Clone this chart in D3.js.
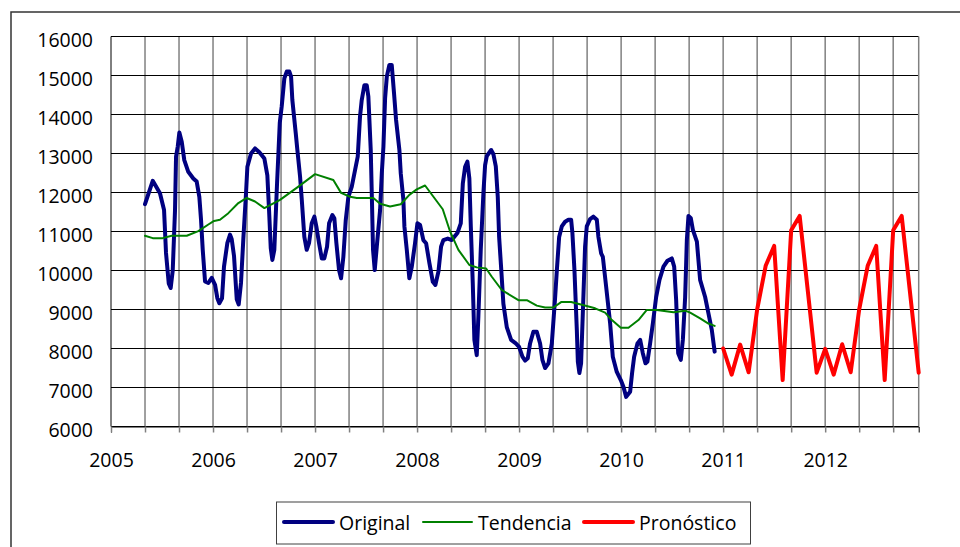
<!DOCTYPE html>
<html>
<head>
<meta charset="utf-8">
<script src="https://cdn.jsdelivr.net/npm/d3@7"></script>
<style>
  body { margin: 0; background: #fff; }
  svg { font-family: "Open Sans", sans-serif; }
</style>
</head>
<body>
<div id="chart"></div>
<script>
// Time is in months since Jan 2005 (0 = Jan 2005, 95 = Dec 2012)

// Original series (sub-monthly detail)
var origT = [4.0, 4.91, 5.76, 6.24, 6.47, 6.79, 7.02, 7.26, 7.53, 7.65, 7.85, 8.04, 8.32, 8.62, 9.09, 9.68, 10.08, 10.39, 10.59, 10.79,
  11.06, 11.45, 11.85, 12.24, 12.51, 12.74, 13.06, 13.29, 13.68, 14.0, 14.2, 14.47, 14.79, 15.02, 15.29, 15.56, 15.88, 16.04, 16.47, 16.94,
  17.45, 18.04, 18.39, 18.59, 18.79, 18.98, 19.21, 19.53, 19.85, 20.08, 20.39, 20.67, 20.98, 21.18, 21.33, 21.73, 21.92, 22.24, 22.44, 22.74,
  23.02, 23.29, 23.61, 23.92, 24.15, 24.47, 24.79, 25.09, 25.41, 25.65, 26.04, 26.27, 26.51, 26.82, 27.06, 27.33, 27.61, 27.92, 28.32, 28.71,
  29.02, 29.29, 29.49, 29.8, 30.08, 30.27, 30.55, 30.69, 30.82, 31.02, 31.26, 31.65, 31.85, 32.04, 32.24, 32.44, 32.74, 33.02, 33.29, 33.53,
  33.92, 34.08, 34.39, 34.51, 34.79, 35.09, 35.38, 35.76, 36.04, 36.35, 36.74, 37.06, 37.45, 37.85, 38.15, 38.51, 38.82, 39.09, 39.61, 40.08,
  40.74, 41.14, 41.38, 41.65, 41.92, 42.15, 42.32, 42.55, 42.74, 43.02, 43.21, 43.49, 43.8, 44.0, 44.2, 44.71, 44.98, 45.26, 45.49, 45.65,
  45.88, 46.15, 46.55, 47.06, 47.61, 48.0, 48.39, 48.71, 49.02, 49.29, 49.68, 50.08, 50.47, 50.74, 51.06, 51.45, 51.85, 52.24, 52.44, 52.71,
  53.02, 53.41, 53.8, 54.12, 54.27, 54.51, 54.79, 54.91, 55.09, 55.29, 55.56, 55.76, 55.96, 56.35, 56.74, 57.14, 57.33, 57.65, 57.85, 58.24,
  58.71, 59.02, 59.49, 59.96, 60.27, 60.59, 61.06, 61.29, 61.53, 61.92, 62.24, 62.55, 62.86, 63.09, 63.41, 63.73, 64.12, 64.51, 64.98, 65.45,
  65.96, 66.24, 66.47, 66.71, 67.02, 67.26, 67.53, 67.73, 67.92, 68.2, 68.44, 68.91, 69.29, 69.88, 70.27, 70.67, 71.0];
var origV = [11700, 12300, 11980, 11550, 10450, 9670, 9550, 10000, 11550, 12920, 13180, 13540, 13300, 12830, 12530, 12360, 12280, 11890, 11300, 10530,
  9720, 9680, 9810, 9630, 9290, 9160, 9290, 10100, 10700, 10920, 10800, 10370, 9260, 9130, 9680, 10790, 11980, 12660, 13000, 13130,
  13030, 12870, 12440, 11550, 10570, 10270, 10530, 12230, 13780, 14210, 14930, 15100, 15100, 14970, 14370, 13520, 13090, 12400, 11810, 10860,
  10530, 10700, 11210, 11380, 11130, 10700, 10310, 10310, 10610, 11210, 11420, 11340, 10700, 10010, 9800, 10350, 11290, 11890, 12150, 12580,
  12920, 13950, 14370, 14750, 14750, 14460, 13090, 11810, 10530, 10010, 10610, 11550, 12490, 13170, 14420, 14970, 15270, 15270, 14540, 13860,
  13090, 12490, 11810, 11130, 10530, 9800, 10100, 10700, 11210, 11170, 10780, 10700, 10190, 9710, 9630, 9970, 10610, 10780, 10820, 10780,
  10960, 11210, 12230, 12660, 12790, 12360, 11130, 9680, 8220, 7830, 8820, 10530, 11980, 12700, 12930, 13090, 12980, 12670, 11890, 10860,
  10090, 9150, 8550, 8220, 8130, 8040, 7790, 7690, 7750, 8130, 8430, 8430, 8130, 7710, 7500, 7620, 8130, 9320, 10010, 10860,
  11130, 11250, 11300, 11300, 10960, 10010, 8470, 7660, 7370, 7620, 9320, 10610, 11130, 11320, 11380, 11300, 10860, 10440, 10350, 9580,
  8640, 7790, 7400, 7190, 7020, 6760, 6890, 7370, 7790, 8130, 8220, 7880, 7620, 7660, 8130, 8640, 9320, 9760, 10100, 10250,
  10310, 10100, 9250, 7880, 7710, 8220, 9320, 10780, 11400, 11340, 11040, 10740, 9760, 9320, 8900, 8470, 7920];

// Tendencia (trend)
var trendT = [4.0, 4.91, 6.08, 7.14, 8.91, 10.27, 11.45, 12.12, 12.82, 13.8, 14.98, 15.96, 16.94, 18.04, 19.88, 22.04, 24.0, 26.15, 27.06, 28.12,
  28.91, 30.86, 31.65, 32.82, 34.08, 35.09, 35.96, 36.94, 39.02, 39.88, 40.86, 42.15, 43.02, 44.12, 44.79, 45.96, 47.92, 48.91, 50.08, 51.06,
  52.04, 52.94, 54.12, 55.38, 56.94, 58.12, 58.71, 59.96, 60.86, 62.04, 63.02, 64.2, 66.16, 67.53, 68.12, 69.29, 70.27, 71.0];
var trendV = [10890, 10830, 10830, 10890, 10890, 11010, 11180, 11270, 11300, 11470, 11730, 11860, 11770, 11600, 11810, 12150, 12470, 12320, 11990, 11890,
  11860, 11860, 11710, 11640, 11700, 11940, 12080, 12180, 11570, 11000, 10530, 10140, 10080, 10050, 9840, 9500, 9240, 9240, 9100, 9050,
  9050, 9190, 9190, 9120, 9030, 8920, 8770, 8530, 8530, 8730, 8990, 8990, 8930, 8970, 8920, 8770, 8640, 8580];

// Pronóstico (forecast), monthly Jan 2011 - Dec 2012
var fcT = d3.range(72, 96);
var fcV = [8000, 7330, 8100, 7390, 9000, 10120, 10630, 7190, 11030, 11400, 9390, 7380,
  7990, 7330, 8110, 7390, 9000, 10120, 10630, 7190, 11030, 11400, 9390, 7380];

var yTicks = d3.range(6000, 16001, 1000);
var seriesNames = ["Original", "Tendencia", "Pronóstico"];
var seriesColors = ["#000080", "#008000", "#FF0000"];
var seriesWidths = [4, 2, 4];

var width = 960, height = 547;
var plotL = 111, plotR = 918.7, plotT = 36.5, plotB = 426.5;

var svg = d3.select("#chart").append("svg")
  .attr("width", width)
  .attr("height", height);

// chart area frame
svg.append("rect")
  .attr("x", 11).attr("y", 12)
  .attr("width", 1000).attr("height", 600)
  .attr("fill", "#fff")
  .attr("stroke", "#333")
  .attr("stroke-width", 1.5);

var x = d3.scaleLinear().domain([0, 95]).range([plotL, plotR]);
var y = d3.scaleLinear().domain([6000, 16000]).range([plotB, plotT]);

// vertical gridlines every 4 months
var vTicks = d3.range(4, 95, 4);
svg.append("g")
  .selectAll("line")
  .data(vTicks)
  .enter().append("line")
  .attr("x1", d => x(d)).attr("x2", d => x(d))
  .attr("y1", plotT).attr("y2", plotB)
  .attr("stroke", "#808080")
  .attr("stroke-width", 1.5);

// horizontal gridlines
svg.append("g")
  .selectAll("line")
  .data(yTicks)
  .enter().append("line")
  .attr("x1", plotL).attr("x2", plotR)
  .attr("y1", d => y(d)).attr("y2", d => y(d))
  .attr("stroke", "#000")
  .attr("stroke-width", 1);

// plot frame
svg.append("line").attr("x1", plotL).attr("x2", plotL).attr("y1", plotT).attr("y2", plotB).attr("stroke", "#000");
svg.append("line").attr("x1", plotR).attr("x2", plotR).attr("y1", plotT).attr("y2", plotB).attr("stroke", "#808080").attr("stroke-width", 1.5);

// x axis
var xAxis = d3.axisBottom(x)
  .tickValues(d3.range(0, 95, 4))
  .tickSize(6)
  .tickFormat(d => d % 12 == 0 ? String(2005 + d / 12) : "");

var gx = svg.append("g")
  .attr("transform", "translate(0," + plotB + ")")
  .call(xAxis);
gx.select(".domain").attr("stroke", "#000");
gx.selectAll(".tick line").attr("stroke", "#808080").attr("stroke-width", 1.5);
gx.selectAll(".tick text")
  .attr("y", 40).attr("dy", 0)
  .attr("fill", "#000")
  .style("font-size", "19.5px")
  .style("font-family", "'Open Sans', sans-serif");

// y axis
var yAxis = d3.axisLeft(y)
  .tickValues(yTicks)
  .tickSize(0)
  .tickPadding(18)
  .tickFormat(d => String(d));

var gy = svg.append("g")
  .attr("transform", "translate(" + plotL + ",0)")
  .call(yAxis);
gy.select(".domain").remove();
gy.selectAll(".tick text")
  .attr("dy", 10)
  .attr("fill", "#000")
  .style("font-size", "19.5px")
  .style("font-family", "'Open Sans', sans-serif");

var line = d3.line()
  .x(d => x(d[0]))
  .y(d => y(d[1]));

var seriesData = [
  d3.zip(origT, origV),
  d3.zip(trendT, trendV),
  d3.zip(fcT, fcV)
];

// series in Excel order: original, trend, forecast
seriesData.forEach(function(data, i) {
  svg.append("path")
    .datum(data)
    .attr("d", line)
    .attr("fill", "none")
    .attr("stroke", seriesColors[i])
    .attr("stroke-width", seriesWidths[i])
    .attr("stroke-linejoin", "round")
    .attr("stroke-linecap", "round");
});

// legend
var legend = svg.append("g");
legend.append("rect")
  .attr("x", 276.5).attr("y", 502)
  .attr("width", 474).attr("height", 42)
  .attr("fill", "#fff")
  .attr("stroke", "#404040")
  .attr("stroke-width", 1);

var legX = [284, 423, 584];
seriesNames.forEach(function(name, i) {
  legend.append("line")
    .attr("x1", legX[i]).attr("x2", legX[i] + 49)
    .attr("y1", 522).attr("y2", 522)
    .attr("stroke", seriesColors[i])
    .attr("stroke-width", seriesWidths[i])
    .attr("stroke-linecap", "round");
  legend.append("text")
    .attr("x", legX[i] + 55)
    .attr("y", 530)
    .style("font-size", "19.5px")
    .text(name);
});
</script>
</body>
</html>
